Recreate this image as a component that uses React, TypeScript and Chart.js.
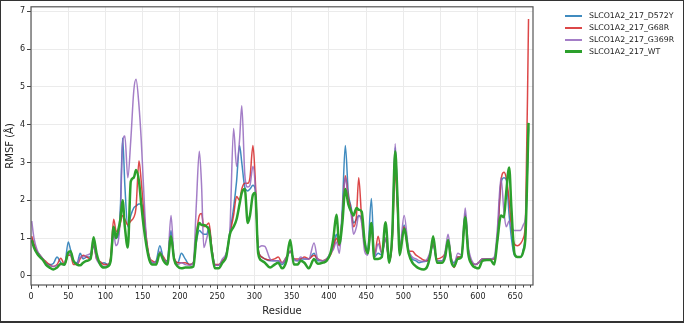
import React, { useEffect, useRef } from "react";
import { Chart, registerables } from "chart.js";

Chart.register(...registerables);

const residues = [
  1, 4, 8, 12, 16, 20, 25, 30, 35, 40,
  45, 50, 53, 57, 62, 66, 70, 75, 80, 84,
  88, 93, 98, 103, 107, 111, 114, 117, 120, 123,
  126, 130, 134, 138, 141, 145, 148, 151, 155, 159,
  163, 168, 173, 178, 183, 188, 192, 197, 202, 207,
  213, 218, 222, 226, 229, 232, 236, 239, 243, 247,
  252, 257, 262, 267, 272, 276, 280, 283, 287, 291,
  294, 298, 301, 305, 310, 314, 321, 327, 332, 337,
  343, 348, 353, 358, 362, 367, 373, 380, 385, 392,
  397, 402, 406, 410, 414, 418, 422, 426, 430, 433,
  437, 440, 444, 448, 452, 457, 461, 466, 471, 476,
  481, 485, 489, 492, 495, 501, 507, 512, 517, 521,
  527, 532, 536, 540, 545, 552, 556, 560, 564, 568,
  573, 578, 583, 587, 592, 597, 601, 606, 612, 617,
  622, 626, 631, 635, 638, 642, 645, 649, 653, 657,
  661, 664, 668,
];

const d572y = [
  1.0, 0.8, 0.65, 0.55, 0.45, 0.35, 0.3, 0.33, 0.5, 0.35,
  0.28, 0.9, 0.7, 0.4, 0.35, 0.6, 0.45, 0.5, 0.5, 0.8,
  0.5, 0.32, 0.35, 0.3, 0.45, 1.25, 1.0, 1.05, 1.8, 3.65,
  2.4, 1.3, 1.6, 1.8, 1.85, 1.9, 1.9, 1.7, 0.9, 0.45,
  0.35, 0.4, 0.8, 0.45, 0.4, 1.2, 0.45, 0.35, 0.6, 0.45,
  0.3, 0.35, 0.9, 1.2, 1.15, 1.1, 1.1, 1.3, 0.7, 0.3,
  0.28, 0.4, 0.55, 1.15, 1.8, 2.5, 3.45, 3.0, 2.35, 2.25,
  2.3, 2.4, 2.3, 0.7, 0.5, 0.45, 0.4, 0.4, 0.4, 0.3,
  0.45, 0.65, 0.45, 0.4, 0.45, 0.45, 0.45, 0.6, 0.4, 0.4,
  0.45, 0.6, 0.8, 1.1, 0.8, 1.8, 3.45, 2.2, 1.8, 1.4,
  1.5, 1.6, 1.5, 0.9, 0.7, 2.05, 0.5, 0.6, 0.55, 1.0,
  0.38, 1.0, 3.4, 2.0, 0.7, 1.35, 0.65, 0.45, 0.4, 0.35,
  0.38, 0.4, 0.6, 0.82, 0.4, 0.4, 0.55, 0.9, 0.45, 0.35,
  0.5, 0.5, 1.65, 0.7, 0.35, 0.3, 0.35, 0.45, 0.45, 0.45,
  0.45, 0.9, 2.45, 2.6, 2.55, 1.6, 1.0, 0.55, 0.5, 0.5,
  0.7, 1.2, 3.9,
];

const g68r = [
  1.05, 0.85, 0.65, 0.55, 0.45, 0.38, 0.3, 0.25, 0.3, 0.47,
  0.3, 0.55, 0.55, 0.3, 0.3, 0.45, 0.55, 0.5, 0.45, 0.85,
  0.45, 0.38, 0.3, 0.3, 0.5, 1.5, 1.2, 1.15, 1.4, 1.6,
  1.5, 1.35, 1.45, 1.55, 1.8, 3.05, 2.5, 1.8, 1.0, 0.5,
  0.4, 0.35, 0.6, 0.5, 0.35, 1.0, 0.5, 0.35, 0.35, 0.35,
  0.3, 0.35, 1.1, 1.6, 1.65, 1.3, 1.35, 1.4, 0.7, 0.3,
  0.3, 0.4, 0.55, 1.1, 1.6, 2.1, 2.0, 2.3, 2.45, 2.45,
  2.6, 3.45, 2.6, 0.7, 0.5, 0.45, 0.42, 0.45, 0.5, 0.35,
  0.5, 0.65, 0.45, 0.45, 0.45, 0.5, 0.45, 0.55, 0.45, 0.4,
  0.45, 0.55, 0.75, 1.0, 0.8, 1.6, 2.65, 2.1, 1.7, 1.3,
  1.6, 2.6, 1.5, 0.8, 0.6, 1.4, 0.5, 1.05, 0.6, 1.0,
  0.38, 0.9, 2.75, 1.8, 0.7, 1.3, 0.65, 0.65, 0.55, 0.5,
  0.42, 0.4, 0.6, 0.85, 0.45, 0.5, 0.6, 0.95, 0.5, 0.22,
  0.5, 0.5, 1.6, 0.7, 0.35, 0.3, 0.35, 0.45, 0.45, 0.45,
  0.45, 1.0, 2.5, 2.74, 2.6, 2.0, 1.3, 0.85, 0.8, 0.85,
  1.0, 1.5, 6.8,
];

const g369r = [
  1.45, 1.0, 0.7, 0.55, 0.45, 0.33, 0.27, 0.25, 0.28, 0.3,
  0.35, 0.6, 0.55, 0.38, 0.3, 0.5, 0.5, 0.55, 0.6, 0.85,
  0.45, 0.3, 0.25, 0.28, 0.4, 1.1, 0.8, 0.9, 1.6, 3.5,
  3.7, 2.6, 3.6, 4.9, 5.2, 4.5, 3.6, 2.4, 0.95, 0.5,
  0.35, 0.35, 0.65, 0.45, 0.35, 1.6, 0.5, 0.3, 0.35, 0.3,
  0.28, 0.35, 1.9, 3.3, 2.4, 0.75, 1.0, 1.2, 0.6, 0.28,
  0.28, 0.45, 0.6, 1.2, 3.9, 2.9, 3.6, 4.5, 2.7, 2.35,
  2.4, 2.9, 2.4, 0.75, 0.8, 0.78, 0.45, 0.4, 0.4, 0.35,
  0.5, 0.65, 0.45, 0.4, 0.5, 0.45, 0.45, 0.87, 0.45, 0.4,
  0.45, 0.6, 0.7, 0.9, 0.6, 1.6, 2.6, 2.0, 1.6, 1.1,
  1.3, 1.6, 1.4, 0.65, 0.55, 1.3, 0.5, 0.85, 0.6, 1.0,
  0.4, 1.1, 3.5, 2.0, 0.75, 1.6, 0.7, 0.5, 0.45, 0.4,
  0.38, 0.45, 0.65, 0.9, 0.4, 0.4, 0.65, 1.1, 0.5, 0.3,
  0.6, 0.55, 1.8, 0.8, 0.4, 0.3, 0.35, 0.45, 0.45, 0.45,
  0.5, 1.2, 2.6, 1.7, 1.3, 1.45, 1.3, 1.2, 1.2, 1.2,
  1.35, 1.6, 3.95,
];

const wt = [
  0.95, 0.75, 0.6, 0.5, 0.42, 0.3, 0.22, 0.17, 0.22, 0.32,
  0.3, 0.62, 0.65, 0.4, 0.3, 0.28, 0.35, 0.4, 0.45, 1.02,
  0.6, 0.3, 0.22, 0.25, 0.4, 1.3, 1.0, 1.2, 1.5, 2.0,
  1.3, 0.75, 2.5, 2.6, 2.8, 2.5, 1.9, 1.35, 0.8, 0.42,
  0.3, 0.3, 0.6, 0.4, 0.3, 1.05, 0.45, 0.25, 0.2, 0.22,
  0.22, 0.25, 1.0, 1.4, 1.35, 1.35, 1.3, 1.2, 0.6, 0.2,
  0.2, 0.35, 0.5, 1.1, 1.3, 1.5, 1.9, 2.2, 2.3, 1.4,
  1.6, 2.15, 2.2, 0.6, 0.4, 0.35, 0.22, 0.3, 0.35, 0.2,
  0.4, 0.95, 0.3, 0.3, 0.4, 0.35, 0.2, 0.45, 0.32, 0.35,
  0.4, 0.6, 1.0, 1.62, 0.85, 1.4, 2.3, 1.9, 1.7, 1.6,
  1.8, 1.75, 1.7, 0.9, 0.6, 1.4, 0.45, 0.45, 0.5, 1.42,
  0.35, 1.1, 3.3, 2.1, 0.55, 1.25, 0.6, 0.35, 0.25, 0.2,
  0.17, 0.25, 0.55, 1.05, 0.35, 0.35, 0.5, 0.95, 0.4, 0.25,
  0.45, 0.5, 1.55, 0.6, 0.3, 0.22, 0.2, 0.4, 0.42, 0.42,
  0.3, 0.9, 1.6, 1.55, 2.2, 2.87, 1.8, 0.6, 0.5, 0.5,
  0.65, 1.1, 4.05,
];

const seriesNames = [
  "SLCO1A2_217_D572Y",
  "SLCO1A2_217_G68R",
  "SLCO1A2_217_G369R",
  "SLCO1A2_217_WT",
];
const seriesColors = [
  "rgba(31,119,180,0.85)",
  "rgba(214,39,40,0.85)",
  "rgba(148,103,189,0.85)",
  "rgba(44,160,44,1)",
];
const seriesWidths = [1.5, 1.5, 1.5, 2.5];

const xTicks = [0, 50, 100, 150, 200, 250, 300, 350, 400, 450, 500, 550, 600, 650];
const xMinorStep = 10;
const yTicks = [0, 1, 2, 3, 4, 5, 6, 7];

const FONT = "'DejaVu Sans', sans-serif";

const framePlugin = {
  id: "frameAndMinor",
  afterDraw(chart: any) {
    const { ctx, chartArea: a, scales } = chart;
    const x = scales.x;
    ctx.save();
    ctx.strokeStyle = "#444";
    ctx.lineWidth = 1;
    ctx.beginPath();
    for (let v = 0; v <= x.max; v += xMinorStep) {
      if (v % 50 === 0) continue;
      const px = Math.round(x.getPixelForValue(v)) + 0.5;
      ctx.moveTo(px, a.bottom);
      ctx.lineTo(px, a.bottom + 2.5);
    }
    ctx.stroke();
    ctx.strokeStyle = "#555";
    ctx.lineWidth = 1.2;
    ctx.strokeRect(a.left, a.top, a.right - a.left, a.bottom - a.top);
    ctx.restore();
  },
};

export default function App() {
  const ref = useRef<HTMLCanvasElement>(null);

  useEffect(() => {
    const seriesValues = [d572y, g68r, g369r, wt];
    const datasets = seriesValues.map((vals, i) => ({
      label: seriesNames[i],
      data: residues.map((r, k) => ({ x: r, y: vals[k] })),
      borderColor: seriesColors[i],
      backgroundColor: seriesColors[i],
      borderWidth: seriesWidths[i],
      pointRadius: 0,
      cubicInterpolationMode: "monotone" as const,
      fill: false,
      order: 4 - i,
    }));

    const chart = new Chart(ref.current as HTMLCanvasElement, {
      type: "line",
      data: { datasets },
      options: {
        animation: false,
        responsive: false,
        devicePixelRatio: 1,
        layout: { padding: { left: 0, right: 151, top: 6, bottom: 0 } },
        plugins: {
          legend: { display: false },
          tooltip: { enabled: false },
        },
        scales: {
          x: {
            type: "linear",
            min: 0,
            max: 674,
            afterBuildTicks: (s: any) => {
              s.ticks = xTicks.map((v) => ({ value: v }));
            },
            afterFit: (s: any) => {
              s.height = 38;
            },
            grid: {
              color: "#ebebeb",
              lineWidth: 1,
              tickColor: "#444",
              tickLength: 4,
            },
            border: { display: false },
            ticks: {
              font: { family: FONT, size: 8 },
              color: "#222",
              padding: 3,
              maxRotation: 0,
              autoSkip: false,
            },
            title: {
              display: true,
              text: "Residue",
              font: { family: FONT, size: 10 },
              color: "#222",
              padding: { top: 0, bottom: 6 },
            },
          },
          y: {
            type: "linear",
            min: -0.24,
            max: 7.12,
            afterBuildTicks: (s: any) => {
              s.ticks = yTicks.map((v) => ({ value: v }));
            },
            afterFit: (s: any) => {
              s.width = 31;
            },
            grid: {
              color: "#ebebeb",
              lineWidth: 1,
              tickColor: "#444",
              tickLength: 4,
            },
            border: { display: false },
            ticks: {
              font: { family: FONT, size: 8 },
              color: "#222",
              padding: 2,
              autoSkip: false,
            },
            title: {
              display: true,
              text: "RMSF (Å)",
              font: { family: FONT, size: 10 },
              color: "#222",
              padding: { top: 4, bottom: 0 },
            },
          },
        },
      },
      plugins: [framePlugin],
    });
    return () => chart.destroy();
  }, []);

  return (
    <div style={{ position: "fixed", left: 0, top: 0, width: 684, height: 323, background: "#fff" }}>
      <canvas ref={ref} width={684} height={323} style={{ display: "block" }} />
      {seriesNames.map((name, i) => (
        <div
          key={name}
          style={{
            position: "absolute",
            left: 565,
            top: 16 + i * 11.9 - 6,
            height: 12,
            display: "flex",
            alignItems: "center",
          }}
        >
          <div style={{ width: 17, height: seriesWidths[i], background: seriesColors[i] }} />
          <span
            style={{
              marginLeft: 7,
              fontFamily: FONT,
              fontSize: 7.8,
              color: "#222",
              whiteSpace: "nowrap",
              lineHeight: "12px",
            }}
          >
            {name}
          </span>
        </div>
      ))}
      <div
        style={{
          position: "absolute",
          left: 0,
          top: 0,
          width: 684,
          height: 323,
          boxSizing: "border-box",
          border: "1px solid #333",
          borderBottomWidth: 2,
          pointerEvents: "none",
        }}
      />
    </div>
  );
}
